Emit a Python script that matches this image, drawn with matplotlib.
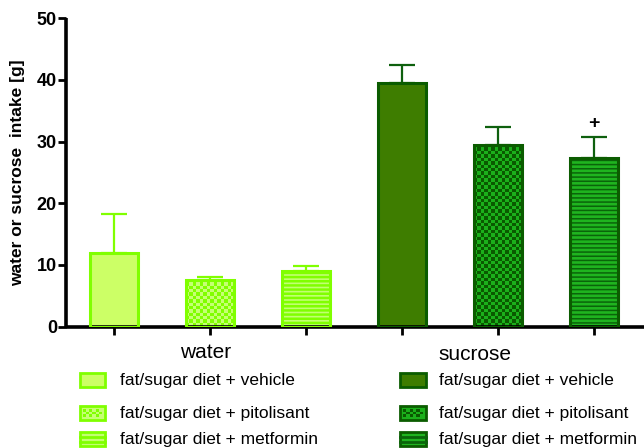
import numpy as np
import matplotlib
matplotlib.use("Agg")
import matplotlib.pyplot as plt
from matplotlib.colors import ListedColormap
from matplotlib.patches import Rectangle

# ---- data -------------------------------------------------------------
groups = ["water", "sucrose"]
treatments = ["fat/sugar diet + vehicle",
              "fat/sugar diet + pitolisant",
              "fat/sugar diet + metformin"]
water_mean = [12.0, 7.5, 9.0]
water_sem = [6.3, 0.6, 0.8]
sucrose_mean = [39.5, 29.4, 27.3]
sucrose_sem = [3.0, 3.0, 3.4]
significance = ["", "", "+"]          # marks above the sucrose bars
y_ticks = [0, 10, 20, 30, 40, 50]
y_label = "water or sucrose  intake [g]"

# ---- styles -----------------------------------------------------------
plt.rcParams["font.family"] = ["Liberation Sans", "DejaVu Sans"]

styles = {
    "water": dict(edge="#80ff00", err="#80ff00",
                  solid="#ccff66",
                  checker=("#80ff00", "#c6ff74"),
                  stripe=("#c2ff72", "#80ff00", 1.8)),
    "sucrose": dict(edge="#0b5c00", err="#0e600e",
                    solid="#3e7d00",
                    checker=("#0a5a00", "#1bb01b"),
                    stripe=("#1fb41f", "#0a640a", 1.1)),
}
patterns = ["solid", "checker", "stripe"]

W, H = 644, 448
fig = plt.figure(figsize=(W / 100, H / 100), dpi=100)
ax = fig.add_axes([66 / W, (H - 326.5) / H, (W - 66) / W, (326.5 - 18.3) / H])

bar_w = 0.5
cell_y = 0.55     # checker cell height in data units
cell_nx = 14      # checker cells across one bar


def checker_fill(axis, x0, x1, y0, y1, nx, ny, colors, clip, z):
    arr = np.add.outer(np.arange(ny), np.arange(nx)) % 2
    im = axis.imshow(arr, extent=(x0, x1, y0, y1), origin="lower",
                     cmap=ListedColormap(list(colors)), vmin=0, vmax=1,
                     interpolation="nearest", aspect="auto", zorder=z)
    im.set_clip_path(clip)
    return im


def draw_bar(x, h, pattern, st):
    if pattern == "solid":
        ax.bar(x, h, bar_w, color=st["solid"], linewidth=0, zorder=2)
    elif pattern == "checker":
        b = ax.bar(x, h, bar_w, color=st["checker"][1], linewidth=0, zorder=2)
        ny = max(1, int(round(h / cell_y)))
        checker_fill(ax, x - bar_w / 2, x + bar_w / 2, 0, h, cell_nx, ny,
                     st["checker"], b.patches[0], 2.2)
    else:
        base, line, lw = st["stripe"]
        with plt.rc_context({"hatch.linewidth": lw}):
            ax.bar(x, h, bar_w, color=base, edgecolor=line, linewidth=0,
                   hatch="----", zorder=2)
    ax.bar(x, h, bar_w, fill=False, edgecolor=st["edge"], linewidth=2.2,
           zorder=3)


positions = np.arange(6)
means = {"water": water_mean, "sucrose": sucrose_mean}
sems = {"water": water_sem, "sucrose": sucrose_sem}

for gi, g in enumerate(groups):
    st = styles[g]
    xs = positions[gi * 3:(gi + 1) * 3]
    for x, m, p in zip(xs, means[g], patterns):
        draw_bar(x, m, p, st)
    ax.errorbar(xs, means[g], yerr=[np.zeros(3), sems[g]], fmt="none",
                ecolor=st["err"], elinewidth=1.6, capsize=9.4,
                capthick=1.6, zorder=1.5)

for x, m, s, mark in zip(positions[3:], sucrose_mean, sucrose_sem, significance):
    if mark:
        ax.text(x, m + s + 2.3, mark, ha="center", va="center",
                fontsize=14, fontweight="bold", color="black")

ax.set_xlim(-0.5, 5.52)
ax.set_ylim(0, 50)
ax.set_yticks(y_ticks)
ax.set_xticks(positions)
ax.set_xticklabels([])
for side in ("top", "right"):
    ax.spines[side].set_visible(False)
for side in ("left", "bottom"):
    ax.spines[side].set_linewidth(2.6)
    ax.spines[side].set_capstyle("butt")
ax.tick_params(axis="y", length=5.5, width=2.0, pad=1,
               labelsize=13)
ax.tick_params(axis="x", length=5.5, width=2.0)
for lab in ax.get_yticklabels():
    lab.set_fontweight("bold")
ax.set_ylabel(y_label, fontsize=12.5, fontweight="bold", va="center")
ax.yaxis.set_label_coords(-0.083, 0.5)

# ---- group legend below the axis -------------------------------------
lax = fig.add_axes([0, 0, 1, 1], zorder=-1)
lax.set_xlim(0, W)
lax.set_ylim(H, 0)
lax.axis("off")

headers = {"water": (206, 353), "sucrose": (475, 355)}
swatch_x = {"water": (80, 105), "sucrose": (400, 426)}
text_x = {"water": 120, "sucrose": 439}
row_y = [380.5, 413.5, 439.5]
sw_h = 14

for g in groups:
    st = styles[g]
    hx, hy = headers[g]
    lax.text(hx, hy, g, ha="center", va="center", fontsize=15)
    x0, x1 = swatch_x[g]
    for label, p, yc in zip(treatments, patterns, row_y):
        y0, y1 = yc - sw_h / 2, yc + sw_h / 2
        if p == "solid":
            r = Rectangle((x0, y0), x1 - x0, sw_h, facecolor=st["solid"],
                          edgecolor="none")
            lax.add_patch(r)
        elif p == "checker":
            r = Rectangle((x0, y0), x1 - x0, sw_h, facecolor=st["checker"][1],
                          edgecolor="none")
            lax.add_patch(r)
            checker_fill(lax, x0 + 3, x1 - 3, y1 - 3, y0 + 3, 6, 3,
                         st["checker"], r, 1)
        else:
            base, line, lw = st["stripe"]
            lax.add_patch(Rectangle((x0, y0), x1 - x0, sw_h,
                                    facecolor=base, edgecolor="none"))
            for yy in (yc - 2.6, yc + 2.6):
                lax.plot([x0, x1], [yy, yy], color=line, lw=2.0)
        lax.add_patch(Rectangle((x0, y0), x1 - x0, sw_h, fill=False,
                                edgecolor=st["edge"], linewidth=2.0))
        lax.text(text_x[g], yc, label, ha="left", va="center", fontsize=12.5)

lax.set_xlim(0, W)
lax.set_ylim(H, 0)

fig.savefig("out.png", dpi=100)
